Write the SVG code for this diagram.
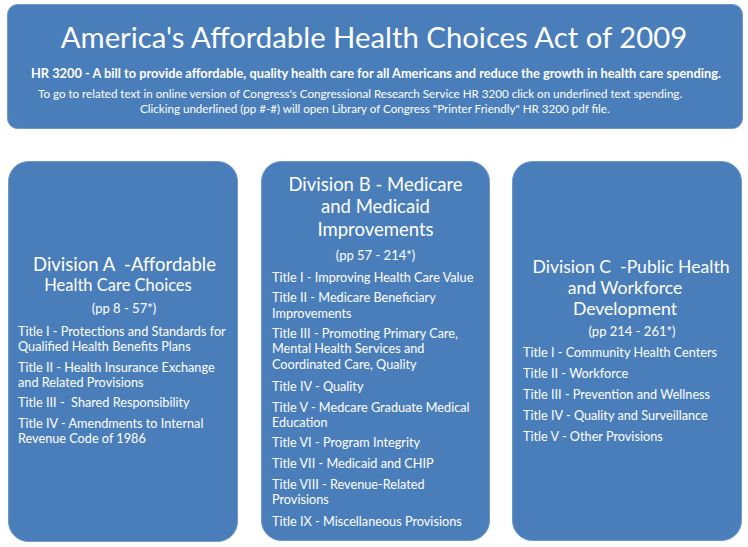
<svg xmlns="http://www.w3.org/2000/svg" width="748" height="547" viewBox="0 0 748 547">
<style>
.box{fill:#4a7ebb;stroke:#6f97c8;stroke-width:1}
text{font-family:Lato,"Open Sans","Liberation Sans",sans-serif;fill:#ffffff;white-space:pre}
.h1{font-size:29.3px}
.sub{font-size:12.8px;font-weight:bold}
.note{font-size:11.6px}
.div{font-size:18.5px}
.divc{font-size:17.6px}
.div2{font-size:16.5px}
.pp{font-size:13px}
.t{font-size:12.7px}
.c{text-anchor:middle}
</style>
<rect width="748" height="547" fill="#ffffff"/>
<g id="header">
<rect class="box" x="7.5" y="4.5" width="735" height="124" rx="10"/>
<text class="h1 c" x="374" y="48">America's Affordable Health Choices Act of 2009</text>
<text class="sub c" x="376" y="78">HR 3200 - A bill to provide affordable, quality health care for all Americans and reduce the growth in health care spending.</text>
<text class="note" x="38" y="98">To go to related text in online version of Congress's Congressional Research Service HR 3200 click on underlined text spending.</text>
<text class="note" x="140" y="113">Clicking underlined (pp #-#) will open Library of Congress "Printer Friendly" HR 3200 pdf file.</text>
</g>
<g id="divisionA">
<rect class="box" x="8.5" y="161.5" width="229" height="380" rx="20"/>
<text class="div c" x="124.5" y="271">Division A  -Affordable</text>
<text class="div2 c" x="118" y="291">Health Care Choices</text>
<text class="pp c" x="124" y="313">(pp 8 - 57*)</text>
<text class="t" x="18" y="336">Title I - Protections and Standards for</text>
<text class="t" x="18" y="351">Qualified Health Benefits Plans</text>
<text class="t" x="18" y="372">Title II - Health Insurance Exchange</text>
<text class="t" x="18" y="387">and Related Provisions</text>
<text class="t" x="18" y="407">Title III -  Shared Responsibility</text>
<text class="t" x="18" y="428">Title IV - Amendments to Internal</text>
<text class="t" x="18" y="443">Revenue Code of 1986</text>
</g>
<g id="divisionB">
<rect class="box" x="261.5" y="161.5" width="228" height="379" rx="20"/>
<text class="div c" x="375.5" y="191">Division B - Medicare</text>
<text class="div c" x="375.5" y="213">and Medicaid</text>
<text class="div c" x="375.5" y="236">Improvements</text>
<text class="pp c" x="375.5" y="260">(pp 57 - 214*)</text>
<text class="t" x="272" y="282">Title I - Improving Health Care Value</text>
<text class="t" x="272" y="302">Title II - Medicare Beneficiary</text>
<text class="t" x="272" y="318">Improvements</text>
<text class="t" x="272" y="338">Title III - Promoting Primary Care,</text>
<text class="t" x="272" y="353">Mental Health Services and</text>
<text class="t" x="272" y="369">Coordinated Care, Quality</text>
<text class="t" x="272" y="391">Title IV - Quality</text>
<text class="t" x="272" y="412">Title V - Medcare Graduate Medical</text>
<text class="t" x="272" y="427">Education</text>
<text class="t" x="272" y="447">Title VI - Program Integrity</text>
<text class="t" x="272" y="468">Title VII - Medicaid and CHIP</text>
<text class="t" x="272" y="489">Title VIII - Revenue-Related</text>
<text class="t" x="272" y="504">Provisions</text>
<text class="t" x="272" y="526">Title IX - Miscellaneous Provisions</text>
</g>
<g id="divisionC">
<rect class="box" x="512.5" y="161.5" width="229" height="379" rx="20"/>
<text class="divc c" x="631" y="273">Division C  -Public Health</text>
<text class="divc c" x="625" y="294">and Workforce</text>
<text class="divc c" x="625" y="315">Development</text>
<text class="pp c" x="632" y="336">(pp 214 - 261*)</text>
<text class="t" x="523" y="357">Title I - Community Health Centers</text>
<text class="t" x="523" y="378">Title II - Workforce</text>
<text class="t" x="523" y="399">Title III - Prevention and Wellness</text>
<text class="t" x="523" y="420">Title IV - Quality and Surveillance</text>
<text class="t" x="523" y="441">Title V - Other Provisions</text>
</g>
<g id="connectors"/>
</svg>
